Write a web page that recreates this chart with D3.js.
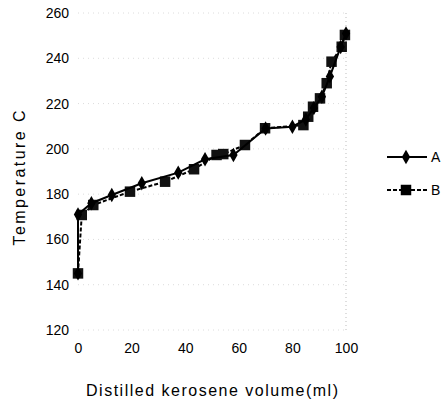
<!DOCTYPE html>
<html>
<head>
<meta charset="utf-8">
<script src="https://cdn.jsdelivr.net/npm/d3@7"></script>
<style>
  body { margin: 0; background: #fff; }
  text { font-family: "Liberation Sans", Arial, sans-serif; fill: #000; }
</style>
</head>
<body>
<div id="chart"></div>
<script>
// Series A (diamonds, solid line)
const volumeA = [0, 0, 5, 12.6, 23.8, 37.4, 47.4, 58, 70, 80, 85, 88, 91, 94, 98, 100];
const tempA = [145, 171, 176, 179.6, 184.8, 189.5, 195.4, 197.3, 209, 209.8, 213, 218, 223, 232, 245, 251];

// Series B (squares, dashed line)
const volumeB = [0, 1.4, 5.7, 19.4, 32.5, 43.3, 51.7, 54.2, 62.3, 69.8, 84.1, 85.9, 87.7, 90.3, 92.8, 94.6, 98.4, 99.6];
const tempB = [145, 170.8, 175.2, 181.1, 185.5, 191, 197.3, 197.7, 201.7, 209.1, 210.5, 214.2, 218.6, 222.3, 229, 238.5, 245.1, 250.3];

// Tick labels
const xTicks = [0, 20, 40, 60, 80, 100];
const yTicks = [120, 140, 160, 180, 200, 220, 240, 260];

const width = 443;
const height = 412;

// Plot area
const plotLeft = 78, plotRight = 346, plotTop = 13, plotBottom = 330;

const svg = d3.select("#chart")
    .append("svg")
    .attr("width", width)
    .attr("height", height);

const x = d3.scaleLinear().domain([0, 100]).range([plotLeft, plotRight]);
const y = d3.scaleLinear().domain([120, 260]).range([plotBottom, plotTop]);

// Faint dotted gridlines (washed out in the scan)
svg.append("g")
    .selectAll("line")
    .data(yTicks)
    .enter().append("line")
    .attr("x1", plotLeft)
    .attr("x2", plotRight)
    .attr("y1", d => y(d))
    .attr("y2", d => y(d))
    .attr("stroke", "#dcdcdc")
    .attr("stroke-dasharray", "1,4");

svg.append("line")
    .attr("x1", plotRight).attr("x2", plotRight)
    .attr("y1", plotTop).attr("y2", plotBottom)
    .attr("stroke", "#bdbdbd")
    .attr("stroke-dasharray", "1,3");

// Y axis labels
const yAxis = svg.append("g")
    .attr("transform", `translate(${plotLeft - 9},0)`)
    .call(d3.axisLeft(y).tickValues(yTicks).tickSize(0).tickPadding(0));
yAxis.select(".domain").remove();
yAxis.selectAll("text")
    .attr("fill", "#000")
    .style("font-size", "14px");

// X axis labels
const xAxis = svg.append("g")
    .attr("transform", `translate(0,${plotBottom + 13})`)
    .call(d3.axisBottom(x).tickValues(xTicks).tickSize(0).tickPadding(0));
xAxis.select(".domain").remove();
xAxis.selectAll("text")
    .attr("fill", "#000")
    .style("font-size", "14px");

// Axis titles
svg.append("text")
    .attr("transform", `translate(25,178) rotate(-90)`)
    .attr("text-anchor", "middle")
    .attr("fill", "#000")
    .attr("textLength", 135)
    .style("font-size", "16px")
    .text("Temperature C");

svg.append("text")
    .attr("x", 212)
    .attr("y", 396)
    .attr("text-anchor", "middle")
    .attr("fill", "#000")
    .attr("textLength", 252)
    .style("font-size", "16px")
    .text("Distilled kerosene volume(ml)");

// Build point arrays
const dataA = volumeA.map((v, i) => ({ v: v, t: tempA[i] }));
const dataB = volumeB.map((v, i) => ({ v: v, t: tempB[i] }));

const line = d3.line()
    .x(d => x(d.v))
    .y(d => y(d.t));

// Series B line (dashed) and square markers
svg.append("path")
    .datum(dataB)
    .attr("d", line)
    .attr("fill", "none")
    .attr("stroke", "#000")
    .attr("stroke-width", 2)
    .attr("stroke-dasharray", "4,2");

const squareSym = d3.symbol().type(d3.symbolSquare).size(110);
const diamondSym = d3.symbol().type(d3.symbolDiamond).size(60);

svg.append("g")
    .selectAll("path")
    .data(dataB)
    .enter().append("path")
    .attr("d", squareSym)
    .attr("transform", d => `translate(${x(d.v)},${y(d.t)})`)
    .attr("fill", "#111");

// Series A line (solid) and diamond markers
svg.append("path")
    .datum(dataA)
    .attr("d", line)
    .attr("fill", "none")
    .attr("stroke", "#000")
    .attr("stroke-width", 2);

svg.append("g")
    .selectAll("path")
    .data(dataA)
    .enter().append("path")
    .attr("d", diamondSym)
    .attr("transform", d => `translate(${x(d.v)},${y(d.t)})`)
    .attr("fill", "#000");

// Legend
const legend = [
    { name: "A", sym: diamondSym, dash: null, y: 157 },
    { name: "B", sym: squareSym, dash: "4,2", y: 190 }
];

const lg = svg.append("g")
    .selectAll("g")
    .data(legend)
    .enter().append("g")
    .attr("transform", d => `translate(387,${d.y})`);

lg.append("line")
    .attr("x1", 0).attr("x2", 40)
    .attr("stroke", "#000")
    .attr("stroke-width", 2)
    .attr("stroke-dasharray", d => d.dash);

lg.append("path")
    .attr("d", d => d.sym())
    .attr("transform", "translate(19,0)")
    .attr("fill", "#000");

lg.append("text")
    .attr("x", 44)
    .attr("dy", "0.35em")
    .attr("fill", "#000")
    .style("font-size", "14px")
    .text(d => d.name);
</script>
</body>
</html>
